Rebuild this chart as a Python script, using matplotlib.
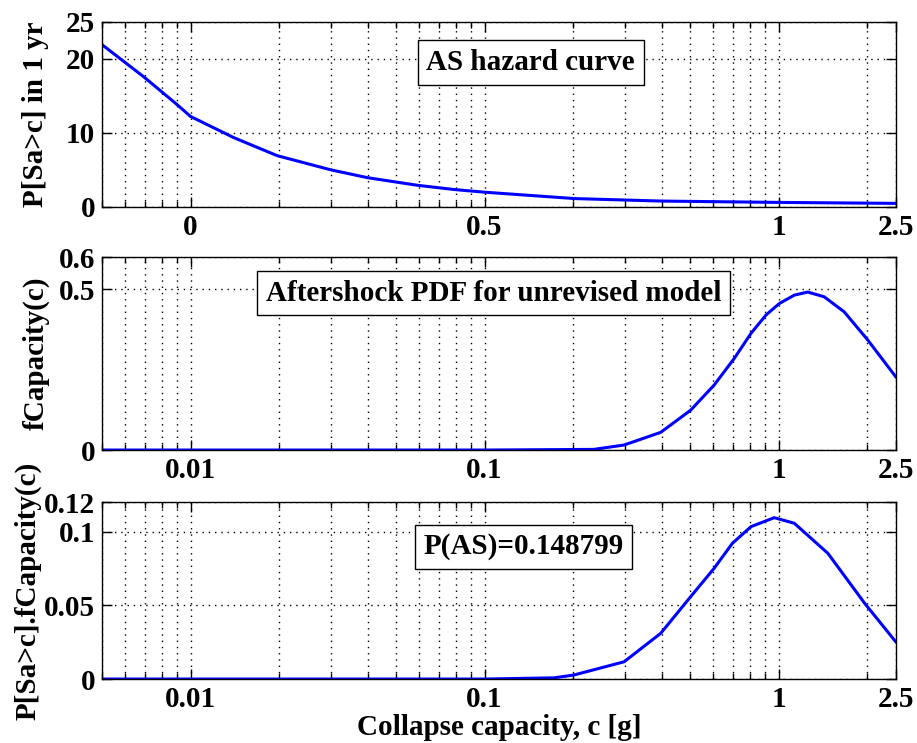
import matplotlib
matplotlib.use("Agg")
import matplotlib.pyplot as plt
from matplotlib.ticker import LogLocator, NullFormatter, FixedLocator

plt.rcParams['font.family'] = ['Liberation Serif', 'DejaVu Serif']
plt.rcParams['font.weight'] = 'bold'
plt.rcParams['axes.labelweight'] = 'bold'

# --- Data ---
# hazard curve: P[Sa>c] in 1 yr
haz_c = [0.005, 0.00693, 0.0090, 0.01, 0.01404, 0.0197, 0.030, 0.040, 0.0592,
         0.0789, 0.1, 0.202, 0.4, 1.0, 2.5]
haz_p = [21.9, 17.56, 13.8, 12.2, 9.33, 6.9, 4.98, 3.92, 2.89,
         2.32, 1.96, 1.1, 0.76, 0.58, 0.45]

# aftershock PDF for unrevised model
pdf_c = [0.005, 0.1, 0.235, 0.298, 0.397, 0.502, 0.603, 0.706, 0.805, 0.905,
         1.005, 1.13, 1.255, 1.427, 1.67, 2.01, 2.5]
pdf_f = [0.0, 0.0, 0.002, 0.0156, 0.055, 0.124, 0.202, 0.285, 0.363, 0.42,
         0.456, 0.482, 0.4916, 0.477, 0.430, 0.342, 0.228]

# product P[Sa>c] * fCapacity(c)
prod_c = [0.005, 0.1, 0.172, 0.201, 0.298, 0.397, 0.502, 0.603, 0.696, 0.805,
          0.966, 1.13, 1.47, 1.96, 2.5]
prod_v = [0.0, 0.0, 0.0008, 0.0027, 0.0117, 0.031, 0.0559, 0.0751, 0.0921, 0.1034,
          0.1095, 0.1057, 0.0853, 0.0514, 0.0253]

x_ticks = [0.01, 0.1, 1, 2.5]
top_tick_labels = ['0', '0.5', '1', '2.5']
low_tick_labels = ['0.01', '0.1', '1', '2.5']

FS = 21

fig = plt.figure(figsize=(9.17, 7.43), dpi=100)


def style_axes(ax, yticks, ylim, xlabels):
    ax.set_xscale('log')
    ax.set_xlim(0.005, 2.5)
    ax.set_ylim(*ylim)
    ax.xaxis.set_major_locator(FixedLocator(x_ticks))
    ax.xaxis.set_minor_locator(LogLocator(base=10, subs=range(2, 10)))
    ax.xaxis.set_minor_formatter(NullFormatter())
    ax.set_xticklabels(xlabels)
    ax.set_yticks(yticks)
    ax.set_yticklabels([f"{t:g}" for t in yticks])
    ax.tick_params(which='both', direction='in', top=True, right=True,
                   labelsize=FS, width=1)
    ax.tick_params(which='major', length=7, pad=5)
    ax.tick_params(which='minor', length=4)
    dots = (0, (1, 3.5))
    ax.xaxis.grid(True, which='both', linestyle=dots, color='k', linewidth=1)
    ax.yaxis.grid(True, which='major', linestyle=dots, color='k', linewidth=1)
    for s in ax.spines.values():
        s.set_linewidth(1.0)


def label_box(ax, x, y, txt):
    ax.text(x, y, txt, transform=ax.transAxes, ha='center', va='center',
            fontsize=FS, fontweight='bold', zorder=5,
            bbox=dict(boxstyle='square,pad=0.3', facecolor='white',
                      edgecolor='black', linewidth=1))


# top: hazard curve
ax1 = fig.add_axes([0.1112, 0.7218, 0.8656, 0.249])
ax1.plot(haz_c, haz_p, color='#0000ff', linewidth=2.2)
style_axes(ax1, [0, 10, 20, 25], (0, 25), top_tick_labels)
ax1.set_ylabel('P[Sa>c] in 1 yr', fontsize=FS, labelpad=12)
label_box(ax1, 0.54, 0.78, 'AS hazard curve')

# middle: pdf
ax2 = fig.add_axes([0.1112, 0.3943, 0.8656, 0.2595])
ax2.plot(pdf_c, pdf_f, color='#0000ff', linewidth=2.2)
style_axes(ax2, [0, 0.5, 0.6], (0, 0.6), low_tick_labels)
ax2.set_ylabel('fCapacity(c)', fontsize=FS, labelpad=6)
label_box(ax2, 0.493, 0.814, 'Aftershock PDF for unrevised model')

# bottom: product
ax3 = fig.add_axes([0.1112, 0.0861, 0.8656, 0.238])
ax3.plot(prod_c, prod_v, color='#0000ff', linewidth=2.2)
style_axes(ax3, [0, 0.05, 0.1, 0.12], (0, 0.12), low_tick_labels)
ax3.set_ylabel('P[Sa>c].fCapacity(c)', fontsize=FS, labelpad=2)
ax3.set_xlabel('Collapse capacity, c [g]', fontsize=FS, labelpad=1)
label_box(ax3, 0.531, 0.748, 'P(AS)=0.148799')

fig.savefig('out.png', dpi=100)
